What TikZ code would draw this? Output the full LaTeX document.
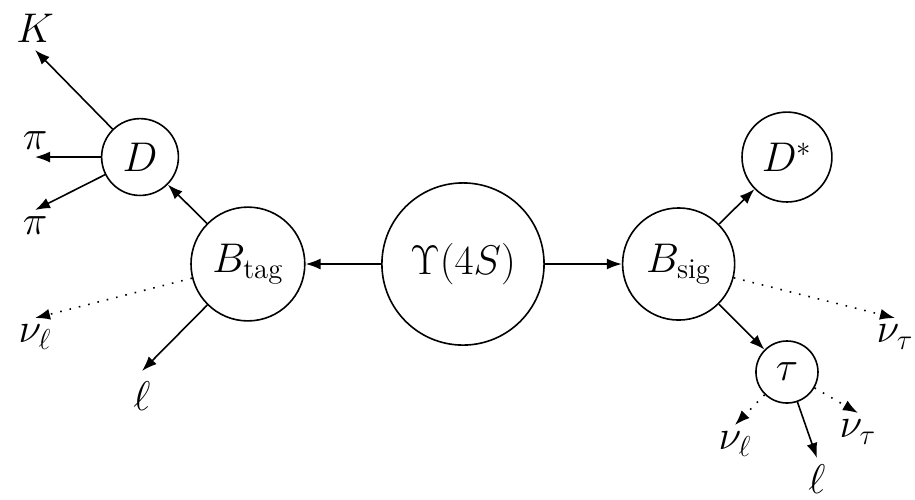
\documentclass[tikz,border=0pt]{standalone}
\usepackage{amsmath,amssymb}
\usepackage{tikz}
\usetikzlibrary{arrows.meta}

\begin{document}
\begin{tikzpicture}[
  >={Latex[length=7.5pt, width=5.5pt]},
  every node/.style={font=\fontsize{20.5}{24}\selectfont},
  particle/.style={draw, circle, thick, inner sep=1pt},
  decay/.style={->, thick},
  missing/.style={->, thick, loosely dotted}
]
\useasboundingbox (-8.137, -4.130) rectangle (7.944, 4.640);

% Resonance and the two B mesons
\node[particle, minimum size=2.85cm] (ups) at (0, 0) {$\Upsilon(4S)$};
\node[particle, minimum size=2.0cm] (btag) at (-3.78, 0) {$B_{\text{tag}}$};
\node[particle, minimum size=1.97cm] (bsig) at (3.79, 0) {$B_{\text{sig}}$};

% Intermediate states
\node[particle, minimum size=1.35cm] (dmes) at (-5.676, 1.880) {$D$};
\node[particle, minimum size=1.58cm] (dstar) at (5.694, 1.880) {$D^*$};
\node[particle, minimum size=1.09cm] (tau) at (5.694, -1.898) {$\tau$};

% Free ends of the final state particles
\coordinate[label=above:$K$] (kaon) at (-7.521, 3.761);
\coordinate[label=above:$\pi$] (pione) at (-7.521, 1.880);
\coordinate[label=below:$\pi$] (pitwo) at (-7.521, 0.949);
\coordinate[label=below:$\nu_\ell$] (nutag) at (-7.521, -0.949);
\coordinate[label={[label distance=2pt]below:$\ell$}] (ltag) at (-5.641, -1.880);
\coordinate[label=below:$\nu_\tau$] (nusig) at (7.592, -0.949);
\coordinate[label=below:$\nu_\ell$] (nutaul) at (4.780, -2.829);
\coordinate[label=below:$\ell$] (ltau) at (6.221, -3.409);
\coordinate[label=below:$\nu_\tau$] (nutaut) at (6.941, -2.618);

% Decay chain
\draw[decay] (ups) -- (btag);
\draw[decay] (ups) -- (bsig);
\draw[decay] (btag) -- (dmes);
\draw[decay] (dmes) -- (kaon);
\draw[decay] (dmes) -- (pione);
\draw[decay] (dmes) -- (pitwo);
\draw[decay] (btag) -- (ltag);
\draw[missing] (btag) -- (nutag);
\draw[decay] (bsig) -- (dstar);
\draw[decay] (bsig) -- (tau);
\draw[missing] (bsig) -- (nusig);
\draw[missing] (tau) -- (nutaul);
\draw[decay] (tau) -- (ltau);
\draw[missing] (tau) -- (nutaut);

\end{tikzpicture}
\end{document}
